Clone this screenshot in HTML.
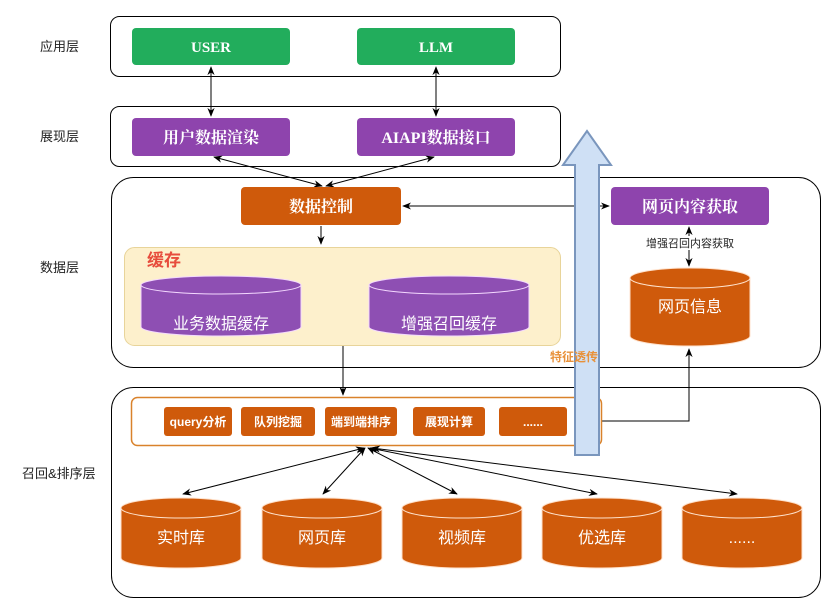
<!DOCTYPE html>
<html><head><meta charset="utf-8"><style>
html,body{margin:0;padding:0;background:#fff;}
svg{display:block;}
text{font-family:"Liberation Sans","Noto Sans CJK SC",sans-serif;}
.b{font-family:"Liberation Serif","Noto Serif CJK SC",serif;font-weight:bold;fill:#fff;}
</style></head><body>
<svg width="838" height="613" viewBox="0 0 838 613" xmlns="http://www.w3.org/2000/svg">
<defs>
<marker id="a" viewBox="0 0 10 10" refX="9" refY="5" markerWidth="9" markerHeight="9" orient="auto-start-reverse"><path d="M0,1 L10,5 L0,9 L3,5z" fill="#000"/></marker>
</defs>
<g font-size="13" fill="#222">
<text x="40" y="51">应用层</text>
<text x="40" y="141">展现层</text>
<text x="40" y="272">数据层</text>
<text x="22" y="478">召回&amp;排序层</text>
</g>
<g fill="none" stroke="#000" stroke-width="1">
<rect x="110.5" y="16.5" width="450" height="60" rx="9"/>
<rect x="110.5" y="106.5" width="450" height="60" rx="9"/>
<rect x="111.5" y="177.5" width="709" height="190" rx="22"/>
<rect x="111.5" y="387.5" width="709" height="210" rx="22"/>
</g>
<rect x="132" y="28" width="158" height="37" rx="4" fill="#22ad5c"/>
<rect x="357" y="28" width="158" height="37" rx="4" fill="#22ad5c"/>
<text class="b" x="211" y="52" font-size="15" text-anchor="middle">USER</text>
<text class="b" x="436" y="52" font-size="15" text-anchor="middle">LLM</text>
<rect x="132" y="118" width="158" height="38" rx="4" fill="#8e44ad"/>
<rect x="357" y="118" width="158" height="38" rx="4" fill="#8e44ad"/>
<text class="b" x="211" y="143" font-size="16" text-anchor="middle">用户数据渲染</text>
<text class="b" x="436" y="143" font-size="16" text-anchor="middle">AIAPI数据接口</text>
<g stroke="#000" stroke-width="1" marker-start="url(#a)" marker-end="url(#a)">
<line x1="211" y1="67" x2="211" y2="116"/>
<line x1="436" y1="67" x2="436" y2="116"/>
<line x1="214" y1="157" x2="322" y2="186"/>
<line x1="434" y1="157" x2="326" y2="186"/>
<line x1="403" y1="206" x2="609" y2="206"/>
<line x1="689" y1="227" x2="689" y2="266"/>
</g>
<rect x="241" y="187" width="160" height="38" rx="4" fill="#cf5a0b"/>
<text class="b" x="321" y="212" font-size="16" text-anchor="middle">数据控制</text>
<rect x="611" y="187" width="158" height="38" rx="4" fill="#8e44ad"/>
<text class="b" x="690" y="212" font-size="16" text-anchor="middle">网页内容获取</text>
<rect x="645" y="236" width="90" height="14" fill="#fff"/>
<text x="690" y="247" font-size="11" text-anchor="middle" fill="#222">增强召回内容获取</text>
<line x1="321" y1="226" x2="321" y2="244" stroke="#000" marker-end="url(#a)"/>
<rect x="124.5" y="247.5" width="436" height="98" rx="10" fill="#fdf0cc" stroke="#e8d49a"/>
<text x="147" y="266" font-size="17" font-weight="bold" fill="#e74c3c">缓存</text>
<g fill="#8e4fb3" stroke="#f4d9ff" stroke-width="1">
<path d="M141,285 v42 a80,9 0 0 0 160,0 v-42"/>
<ellipse cx="221" cy="285" rx="80" ry="9"/>
<path d="M369,285 v42 a80,9 0 0 0 160,0 v-42"/>
<ellipse cx="449" cy="285" rx="80" ry="9"/>
</g>
<text x="221" y="329" font-size="16" fill="#fff" text-anchor="middle">业务数据缓存</text>
<text x="449" y="329" font-size="16" fill="#fff" text-anchor="middle">增强召回缓存</text>
<g fill="#cf5a0b" stroke="#ffe2cc" stroke-width="1">
<path d="M630,278 v58 a60,10 0 0 0 120,0 v-58"/>
<ellipse cx="690" cy="278" rx="60" ry="10"/>
</g>
<text x="690" y="312" font-size="16" fill="#fff" text-anchor="middle">网页信息</text>
<line x1="343" y1="346" x2="343" y2="395" stroke="#000" marker-end="url(#a)"/>
<polyline points="602,421 689,421 689,349" fill="none" stroke="#000" marker-end="url(#a)"/>
<rect x="131.5" y="397.5" width="470" height="48" rx="6" fill="#fff" stroke="#d9822b" stroke-width="1.5"/>
<path d="M575,455 V165 H563 L587,131 L611,165 H599 V455 Z" fill="#cfe0f5" stroke="#7a96bd" stroke-width="2"/>
<text x="550" y="361" font-size="12" font-weight="bold" fill="#e8913a">特征透传</text>
<g fill="#cf5a0b">
<rect x="164" y="407" width="68" height="29" rx="3"/>
<rect x="241" y="407" width="74" height="29" rx="3"/>
<rect x="325" y="407" width="72" height="29" rx="3"/>
<rect x="413" y="407" width="72" height="29" rx="3"/>
<rect x="499" y="407" width="68" height="29" rx="3"/>
</g>
<g class="b" font-size="12" text-anchor="middle">
<text x="198" y="426">query分析</text>
<text x="278" y="426">队列挖掘</text>
<text x="361" y="426">端到端排序</text>
<text x="449" y="426">展现计算</text>
<text x="533" y="426">......</text>
</g>
<g stroke="#000" stroke-width="1" marker-start="url(#a)" marker-end="url(#a)">
<line x1="364" y1="448" x2="183" y2="494"/>
<line x1="365" y1="448" x2="323" y2="494"/>
<line x1="368" y1="448" x2="457" y2="494"/>
<line x1="370" y1="448" x2="597" y2="494"/>
<line x1="372" y1="448" x2="737" y2="494"/>
</g>
<g fill="#cf5a0b" stroke="#ffe2cc" stroke-width="1">
<path d="M121,508 v50 a60,10 0 0 0 120,0 v-50"/><ellipse cx="181" cy="508" rx="60" ry="10"/>
<path d="M262,508 v50 a60,10 0 0 0 120,0 v-50"/><ellipse cx="322" cy="508" rx="60" ry="10"/>
<path d="M402,508 v50 a60,10 0 0 0 120,0 v-50"/><ellipse cx="462" cy="508" rx="60" ry="10"/>
<path d="M542,508 v50 a60,10 0 0 0 120,0 v-50"/><ellipse cx="602" cy="508" rx="60" ry="10"/>
<path d="M682,508 v50 a60,10 0 0 0 120,0 v-50"/><ellipse cx="742" cy="508" rx="60" ry="10"/>
</g>
<g font-size="16" fill="#fff" text-anchor="middle">
<text x="181" y="543">实时库</text>
<text x="322" y="543">网页库</text>
<text x="462" y="543">视频库</text>
<text x="602" y="543">优选库</text>
<text x="742" y="543">......</text>
</g>
</svg>
</body></html>
